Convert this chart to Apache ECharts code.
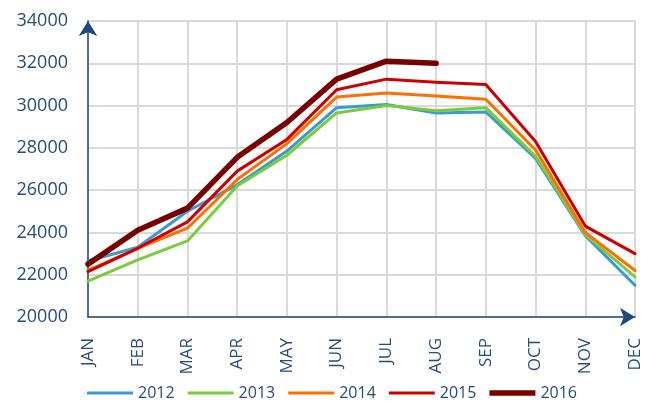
<!DOCTYPE html>
<html>
<head>
<meta charset="utf-8">
<script src="https://cdn.jsdelivr.net/npm/echarts@6/dist/echarts.min.js"></script>
<style>
  html, body { margin: 0; padding: 0; background: #fff; }
  #chart { width: 664px; height: 406px; }
</style>
</head>
<body>
<div id="chart"></div>
<script>
var months = ['JAN', 'FEB', 'MAR', 'APR', 'MAY', 'JUN', 'JUL', 'AUG', 'SEP', 'OCT', 'NOV', 'DEC'];

var y2012 = [22650, 23300, 25000, 26250, 27850, 29900, 30050, 29650, 29700, 27500, 23850, 21500];
var y2013 = [21700, 22700, 23600, 26200, 27650, 29650, 30000, 29750, 29900, 27600, 23900, 21900];
var y2014 = [22200, 23250, 24200, 26500, 28200, 30400, 30600, 30450, 30300, 27900, 24000, 22200];
var y2015 = [22150, 23250, 24500, 26900, 28400, 30750, 31250, 31100, 31000, 28300, 24300, 23000];
var y2016 = [22500, 24100, 25150, 27550, 29200, 31250, 32100, 32000];

var textColor = '#284b7c';
var axisColor = '#1f497d';
var gridColor = '#d9d9d9';
var fontFam = '"Open Sans", sans-serif';

/* one entry per year */
var years = [
  { name: '2012', data: y2012, color: '#3a9ad6', width: 3 },
  { name: '2013', data: y2013, color: '#7acc3c', width: 3 },
  { name: '2014', data: y2014, color: '#ff6f00', width: 3 },
  { name: '2015', data: y2015, color: '#cc0000', width: 3 },
  { name: '2016', data: y2016, color: '#780000', width: 5.5 }
];

var chart = echarts.init(document.getElementById('chart'));

var option = {
  animation: false,
  grid: { left: 88, right: 29, top: 21, bottom: 89, containLabel: false },
  legend: {
    bottom: 5,
    left: 'center',
    padding: 0,
    itemWidth: 46,
    itemHeight: 10,
    itemGap: 13,
    textStyle: { color: textColor, fontSize: 16, fontFamily: fontFam },
    data: years.map(function (y) {
      var h = y.width;
      return {
        name: y.name,
        icon: 'path://M0,0 L46,0 L46,' + h + ' L0,' + h + ' Z'
      };
    })
  },
  xAxis: {
    type: 'category',
    boundaryGap: false,
    data: months,
    axisLine: {
      show: true,
      symbol: ['none', 'arrow'],
      symbolSize: [14, 15],
      lineStyle: { color: axisColor, width: 1.5 }
    },
    axisTick: { show: false },
    splitLine: { show: true, lineStyle: { color: gridColor, width: 2 } },
    axisLabel: {
      rotate: 90,
      margin: 21,
      interval: 0,
      color: textColor,
      fontSize: 17,
      fontFamily: fontFam
    }
  },
  yAxis: {
    type: 'value',
    min: 20000,
    max: 34000,
    interval: 2000,
    axisLine: {
      show: true,
      symbol: ['none', 'arrow'],
      symbolSize: [14, 15],
      lineStyle: { color: axisColor, width: 1.5 }
    },
    axisTick: { show: false },
    splitLine: { show: true, lineStyle: { color: gridColor, width: 2 } },
    axisLabel: {
      margin: 20,
      color: textColor,
      fontSize: 18,
      fontFamily: fontFam,
      formatter: function (v) { return String(v); }
    }
  },
  series: years.map(function (y) {
    return {
      name: y.name,
      type: 'line',
      data: y.data,
      showSymbol: false,
      symbol: 'none',
      color: y.color,
      lineStyle: { width: y.width, color: y.color, cap: 'round', join: 'round' }
    };
  })
};

chart.setOption(option);
</script>
</body>
</html>
